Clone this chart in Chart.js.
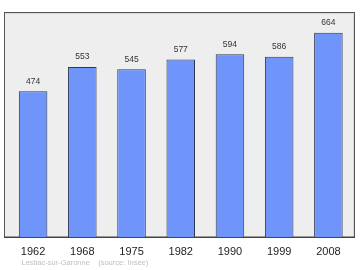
<!DOCTYPE html>
<html>
<head>
<meta charset="utf-8">
<script src="https://cdn.jsdelivr.net/npm/chart.js@4"></script>
<style>
  html, body { margin: 0; padding: 0; background: #fff; }
  #wrap { width: 360px; height: 270px; position: relative; }
</style>
</head>
<body>
<div id="wrap"><canvas id="chart"></canvas></div>
<script>
// --- DATOS ---
const YEARS = ['1962', '1968', '1975', '1982', '1990', '1999', '2008'];
const POPULATION = [474, 553, 545, 577, 594, 586, 664];
const Y_MAX = 731.5;
const SOURCE_TEXT = 'Lestiac-sur-Garonne    (source: Insee)';

// fondo gris y marco del área de trazado
const plotFrame = {
    id: 'plotFrame',
    beforeDraw(chart) {
        const { ctx, chartArea: a } = chart;
        const x0 = a.left - 4.5, x1 = a.right + 2, y0 = a.top, y1 = a.bottom;
        ctx.save();
        ctx.fillStyle = '#eeeeee';
        ctx.fillRect(x0, y0, x1 - x0, y1 - y0);
        ctx.strokeStyle = '#d8d8d8';
        ctx.lineWidth = 1;
        ctx.beginPath();
        ctx.moveTo(x0 + 1.5, y0 + 1.5);
        ctx.lineTo(x1 - 1.5, y0 + 1.5);
        ctx.lineTo(x1 - 1.5, y1);
        ctx.stroke();
        ctx.strokeStyle = '#555555';
        ctx.strokeRect(x0 + 0.5, y0 + 0.5, x1 - x0 - 1, y1 - y0);
        ctx.fillStyle = '#444444';
        ctx.fillRect(x0, y1 - 0.5, x1 - x0, 1.5);
        ctx.restore();
    },
    afterDraw(chart) {
        const { ctx } = chart;
        ctx.save();
        ctx.font = '7.5px "Liberation Sans", Arial, sans-serif';
        ctx.fillStyle = '#c0c0c0';
        ctx.textBaseline = 'middle';
        ctx.fillText(SOURCE_TEXT, 21.5, 263);
        ctx.restore();
    }
};

// etiquetas de valores encima de las barras
const valueLabels = {
    id: 'valueLabels',
    afterDatasetsDraw(chart) {
        const { ctx } = chart;
        const meta = chart.getDatasetMeta(0);
        ctx.save();
        ctx.font = '8.5px "Liberation Sans", Arial, sans-serif';
        ctx.fillStyle = '#333333';
        ctx.textAlign = 'center';
        ctx.textBaseline = 'middle';
        meta.data.forEach((bar, i) => {
            ctx.fillText(String(POPULATION[i]), bar.x, bar.y - 10);
        });
        ctx.restore();
    }
};

new Chart(document.getElementById('chart').getContext('2d'), {
    type: 'bar',
    data: {
        labels: YEARS,
        datasets: [{
            data: POPULATION,
            backgroundColor: '#6f95fb',
            borderColor: '#2e3550',
            borderWidth: 1,
            borderSkipped: 'bottom',
            barPercentage: 0.58,
            categoryPercentage: 1.0
        }]
    },
    options: {
        responsive: true,
        maintainAspectRatio: false,
        animation: false,
        events: [],
        layout: { padding: { left: 8.5, right: 7, top: 12, bottom: 0 } },
        scales: {
            x: {
                grid: { display: false, drawTicks: false },
                border: { display: false },
                ticks: {
                    padding: 8,
                    color: '#222222',
                    font: { family: '"Liberation Sans", Arial, sans-serif', size: 11 }
                },
                afterFit(scale) { scale.height = 33; }
            },
            y: {
                display: false,
                min: 0,
                max: Y_MAX
            }
        },
        plugins: {
            legend: { display: false },
            tooltip: { enabled: false }
        }
    },
    plugins: [plotFrame, valueLabels]
});
</script>
</body>
</html>
